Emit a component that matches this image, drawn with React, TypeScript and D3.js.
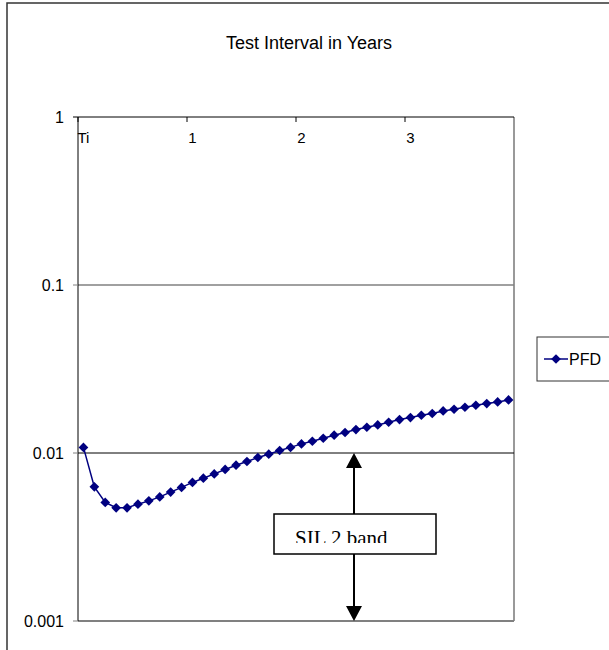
import React, { useEffect, useRef } from 'react'
import * as d3 from 'd3'

const width = 609
const height = 650
const margin = { top: 117, left: 78, bottom: 29, right: 95 }

// categories: "Ti" then 0.1 .. 3.9 years
const categories = ['Ti'].concat(d3.range(1, 40).map(i => (i / 10).toFixed(1)))
const pfd = [
  0.0108, 0.00629, 0.00508, 0.00472, 0.00472, 0.00496, 0.00519, 0.00548, 0.00585, 0.00624,
  0.00668, 0.00708, 0.00751, 0.00798, 0.00846, 0.0089, 0.0094, 0.00984, 0.01035, 0.0108,
  0.01133, 0.01175, 0.01224, 0.01276, 0.01324, 0.01379, 0.01423, 0.01469, 0.01524, 0.01582,
  0.01626, 0.01678, 0.01718, 0.0178, 0.01821, 0.01872, 0.01924, 0.01969, 0.02013, 0.02069
]
const xTickLabels = ['Ti', '1', '2', '3']
const xTickIndex = [0, 10, 20, 30]
const yTicks = [1, 0.1, 0.01, 0.001]
const yTickLabels = ['1', '0.1', '0.01', '0.001']

const App = () => {
  const ref = useRef<SVGSVGElement>(null)

  useEffect(() => {
    const svg = d3.select(ref.current)
    svg.selectAll('*').remove()

    const x = d3.scaleBand<string>()
      .domain(categories)
      .range([margin.left, width - margin.right])
    const y = d3.scaleLog()
      .domain([0.001, 1])
      .range([height - margin.bottom, margin.top])

    const x0 = margin.left
    const x1 = width - margin.right
    const font = 'Liberation Sans, Arial, sans-serif'

    // chart area border
    svg.append('rect')
      .attr('x', 7).attr('y', 3)
      .attr('width', 640).attr('height', 700)
      .attr('fill', 'white')
      .attr('stroke', '#333').attr('stroke-width', 1.5)

    svg.append('text')
      .attr('x', 309).attr('y', 49)
      .attr('text-anchor', 'middle')
      .style('font-family', font).style('font-size', '18px')
      .text('Test Interval in Years')

    // plot area border (right + bottom gray)
    svg.append('line')
      .attr('x1', x1).attr('x2', x1)
      .attr('y1', y(1)).attr('y2', y(0.001))
      .attr('stroke', '#999').attr('stroke-width', 2)
    svg.append('line')
      .attr('x1', x0).attr('x2', x1)
      .attr('y1', y(0.001)).attr('y2', y(0.001))
      .attr('stroke', '#808080').attr('stroke-width', 2)

    // gridlines
    svg.append('line')
      .attr('x1', x0).attr('x2', x1)
      .attr('y1', y(0.1)).attr('y2', y(0.1))
      .attr('stroke', '#808080').attr('stroke-width', 1.5)
    svg.append('line')
      .attr('x1', x0).attr('x2', x1)
      .attr('y1', y(0.01)).attr('y2', y(0.01))
      .attr('stroke', '#000').attr('stroke-width', 1)

    // y axis
    svg.append('line')
      .attr('x1', x0).attr('x2', x0)
      .attr('y1', y(1)).attr('y2', y(0.001))
      .attr('stroke', '#000').attr('stroke-width', 1)
    yTicks.forEach((t, i) => {
      svg.append('line')
        .attr('x1', x0 - 5).attr('x2', x0)
        .attr('y1', y(t)).attr('y2', y(t))
        .attr('stroke', i === 0 ? '#000' : '#808080').attr('stroke-width', 1)
      svg.append('text')
        .attr('x', x0 - 14).attr('y', y(t) + 6)
        .attr('text-anchor', 'end')
        .style('font-family', font).style('font-size', '16px')
        .text(yTickLabels[i])
    })

    // x axis on top
    svg.append('line')
      .attr('x1', x0).attr('x2', x1)
      .attr('y1', y(1)).attr('y2', y(1))
      .attr('stroke', '#000').attr('stroke-width', 1)
    xTickIndex.forEach((ci, i) => {
      const tx = x(categories[ci])!
      svg.append('line')
        .attr('x1', tx).attr('x2', tx)
        .attr('y1', y(1)).attr('y2', y(1) + 5)
        .attr('stroke', '#000').attr('stroke-width', 1)
      svg.append('text')
        .attr('x', tx + x.bandwidth() / 2).attr('y', y(1) + 26)
        .attr('text-anchor', 'middle')
        .style('font-family', font).style('font-size', '15px')
        .text(xTickLabels[i])
    })

    // SIL 2 band annotation
    const ax = 354
    const boxTop = 514
    const boxBottom = 554
    svg.append('line')
      .attr('x1', ax).attr('x2', ax)
      .attr('y1', y(0.01) + 14).attr('y2', boxTop)
      .attr('stroke', '#000').attr('stroke-width', 2)
    svg.append('path')
      .attr('d', `M${ax},${y(0.01)} L${ax - 8},${y(0.01) + 15} L${ax + 8},${y(0.01) + 15} Z`)
      .attr('fill', '#000')
    svg.append('line')
      .attr('x1', ax).attr('x2', ax)
      .attr('y1', boxBottom).attr('y2', y(0.001) - 14)
      .attr('stroke', '#000').attr('stroke-width', 2)
    svg.append('path')
      .attr('d', `M${ax},${y(0.001)} L${ax - 8},${y(0.001) - 15} L${ax + 8},${y(0.001) - 15} Z`)
      .attr('fill', '#000')
    svg.append('rect')
      .attr('x', 274).attr('y', boxTop)
      .attr('width', 162).attr('height', boxBottom - boxTop)
      .attr('fill', 'white').attr('stroke', '#000').attr('stroke-width', 1.5)
    svg.append('clipPath').attr('id', 'silclip')
      .append('rect')
      .attr('x', 276).attr('y', boxTop + 2)
      .attr('width', 158).attr('height', 543 - boxTop - 2)
    svg.append('text')
      .attr('x', 295).attr('y', 545)
      .attr('clip-path', 'url(#silclip)')
      .style('font-family', 'Liberation Serif, Times New Roman, serif')
      .style('font-size', '21px')
      .text('SIL 2 band')

    // series
    const cx = (i: number) => x(categories[i])! + x.bandwidth() / 2
    const line = d3.line<number>()
      .x((d, i) => cx(i))
      .y(d => y(d))
    svg.append('path')
      .datum(pfd)
      .attr('d', line)
      .attr('fill', 'none')
      .attr('stroke', '#000080').attr('stroke-width', 1.5)
    const diamond = d3.symbol().type(d3.symbolDiamond2).size(60)
    svg.selectAll('path.pt').data(pfd).enter().append('path')
      .attr('class', 'pt')
      .attr('d', diamond)
      .attr('transform', (d, i) => `translate(${cx(i)},${y(d)})`)
      .attr('fill', '#000080')

    // legend
    svg.append('rect')
      .attr('x', 537).attr('y', 337)
      .attr('width', 100).attr('height', 44)
      .attr('fill', 'white').attr('stroke', '#333').attr('stroke-width', 1)
    svg.append('line')
      .attr('x1', 544).attr('x2', 568)
      .attr('y1', 359).attr('y2', 359)
      .attr('stroke', '#000080').attr('stroke-width', 1.5)
    svg.append('path')
      .attr('d', diamond)
      .attr('transform', 'translate(556,359)')
      .attr('fill', '#000080')
    svg.append('text')
      .attr('x', 569).attr('y', 365)
      .style('font-family', font).style('font-size', '16px')
      .text('PFD')
  }, [])

  return (
    <div style={{ position: 'absolute', left: 0, top: 0 }}>
      <svg ref={ref} width={width} height={height} style={{ display: 'block' }}></svg>
    </div>
  )
}

export default App
